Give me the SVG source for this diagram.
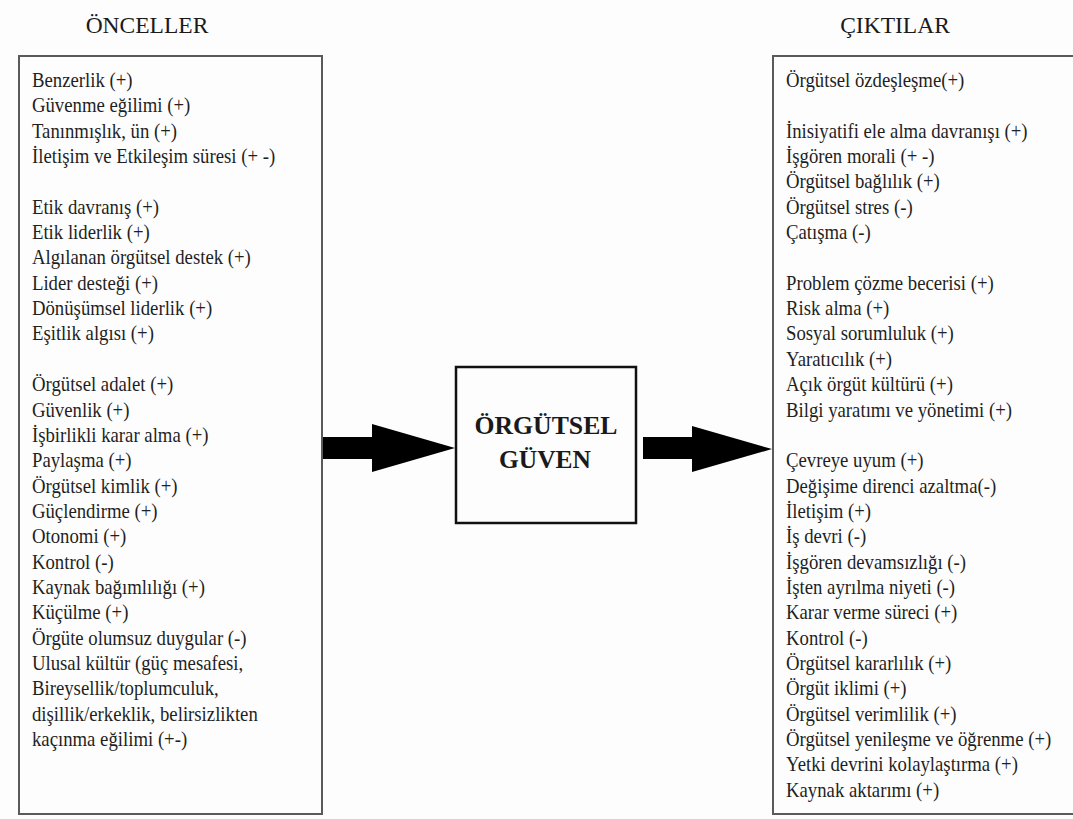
<svg xmlns="http://www.w3.org/2000/svg" width="1073" height="819" viewBox="0 0 1073 819">
<style>
.bg{fill:#fdfdfd}
.head{font-family:"Liberation Serif","Times New Roman",serif;font-size:23.5px;fill:#1a1a1a}
.item{font-family:"Liberation Serif","Times New Roman",serif;font-size:21px;fill:#1f1f1f}
.list{fill:#fdfdfd;stroke:#5a5a5a;stroke-width:2}
.core{fill:#fdfdfd;stroke:#111;stroke-width:2.5}
.coretext{font-family:"Liberation Serif","Times New Roman",serif;font-size:25px;font-weight:bold;fill:#1a1a1a}
.arrow{fill:#000}
</style>
<rect class="bg" x="0" y="0" width="1073" height="819"/>

<g id="onceller">
<text class="head" x="147" y="33" text-anchor="middle">ÖNCELLER</text>
<rect class="list" x="19" y="56" width="303" height="758"/>
<g transform="scale(0.893,1)">
<text class="item" x="35.8" y="87">Benzerlik (+)</text>
<text class="item" x="35.8" y="112.35">Güvenme eğilimi (+)</text>
<text class="item" x="35.8" y="137.7">Tanınmışlık, ün (+)</text>
<text class="item" x="35.8" y="163.05">İletişim ve Etkileşim süresi (+ -)</text>
<text class="item" x="35.8" y="213.75">Etik davranış (+)</text>
<text class="item" x="35.8" y="239.1">Etik liderlik (+)</text>
<text class="item" x="35.8" y="264.45">Algılanan örgütsel destek (+)</text>
<text class="item" x="35.8" y="289.8">Lider desteği (+)</text>
<text class="item" x="35.8" y="315.15">Dönüşümsel liderlik (+)</text>
<text class="item" x="35.8" y="340.5">Eşitlik algısı (+)</text>
<text class="item" x="35.8" y="391.2">Örgütsel adalet (+)</text>
<text class="item" x="35.8" y="416.55">Güvenlik (+)</text>
<text class="item" x="35.8" y="441.9">İşbirlikli karar alma (+)</text>
<text class="item" x="35.8" y="467.25">Paylaşma (+)</text>
<text class="item" x="35.8" y="492.6">Örgütsel kimlik (+)</text>
<text class="item" x="35.8" y="517.95">Güçlendirme (+)</text>
<text class="item" x="35.8" y="543.3">Otonomi (+)</text>
<text class="item" x="35.8" y="568.65">Kontrol (-)</text>
<text class="item" x="35.8" y="594">Kaynak bağımlılığı (+)</text>
<text class="item" x="35.8" y="619.35">Küçülme (+)</text>
<text class="item" x="35.8" y="644.7">Örgüte olumsuz duygular (-)</text>
<text class="item" x="35.8" y="670.05">Ulusal kültür (güç mesafesi,</text>
<text class="item" x="35.8" y="695.4">Bireysellik/toplumculuk,</text>
<text class="item" x="35.8" y="720.75">dişillik/erkeklik, belirsizlikten</text>
<text class="item" x="35.8" y="746.1">kaçınma eğilimi (+-)</text>
</g>
</g>

<g id="orgutsel-guven">
<rect class="core" x="456" y="367" width="180" height="156"/>
<text class="coretext" x="546" y="434" text-anchor="middle" textLength="143" lengthAdjust="spacingAndGlyphs">ÖRGÜTSEL</text>
<text class="coretext" x="545" y="468" text-anchor="middle" textLength="92" lengthAdjust="spacingAndGlyphs">GÜVEN</text>
</g>

<g id="ciktilar">
<text class="head" x="895" y="33" text-anchor="middle">ÇIKTILAR</text>
<rect class="list" x="773" y="56" width="302" height="758"/>
<g transform="scale(0.893,1)">
<text class="item" x="880.2" y="87">Örgütsel özdeşleşme(+)</text>
<text class="item" x="880.2" y="137.7">İnisiyatifi ele alma davranışı (+)</text>
<text class="item" x="880.2" y="163.05">İşgören morali (+ -)</text>
<text class="item" x="880.2" y="188.4">Örgütsel bağlılık (+)</text>
<text class="item" x="880.2" y="213.75">Örgütsel stres (-)</text>
<text class="item" x="880.2" y="239.1">Çatışma (-)</text>
<text class="item" x="880.2" y="289.8">Problem çözme becerisi (+)</text>
<text class="item" x="880.2" y="315.15">Risk alma (+)</text>
<text class="item" x="880.2" y="340.5">Sosyal sorumluluk (+)</text>
<text class="item" x="880.2" y="365.85">Yaratıcılık (+)</text>
<text class="item" x="880.2" y="391.2">Açık örgüt kültürü (+)</text>
<text class="item" x="880.2" y="416.55">Bilgi yaratımı ve yönetimi (+)</text>
<text class="item" x="880.2" y="467.25">Çevreye uyum (+)</text>
<text class="item" x="880.2" y="492.6">Değişime direnci azaltma(-)</text>
<text class="item" x="880.2" y="517.95">İletişim (+)</text>
<text class="item" x="880.2" y="543.3">İş devri (-)</text>
<text class="item" x="880.2" y="568.65">İşgören devamsızlığı (-)</text>
<text class="item" x="880.2" y="594">İşten ayrılma niyeti (-)</text>
<text class="item" x="880.2" y="619.35">Karar verme süreci (+)</text>
<text class="item" x="880.2" y="644.7">Kontrol (-)</text>
<text class="item" x="880.2" y="670.05">Örgütsel kararlılık (+)</text>
<text class="item" x="880.2" y="695.4">Örgüt iklimi (+)</text>
<text class="item" x="880.2" y="720.75">Örgütsel verimlilik (+)</text>
<text class="item" x="880.2" y="746.1">Örgütsel yenileşme ve öğrenme (+)</text>
<text class="item" x="880.2" y="771.45">Yetki devrini kolaylaştırma (+)</text>
<text class="item" x="880.2" y="796.8">Kaynak aktarımı (+)</text>
</g>
</g>

<g id="connectors">
<polygon class="arrow" points="323,437 372,437 372,424 455,448 372,472 372,459 323,459"/>
<polygon class="arrow" points="643,437 692,437 692,426 772,449 692,472 692,459 643,459"/>
</g>
</svg>
